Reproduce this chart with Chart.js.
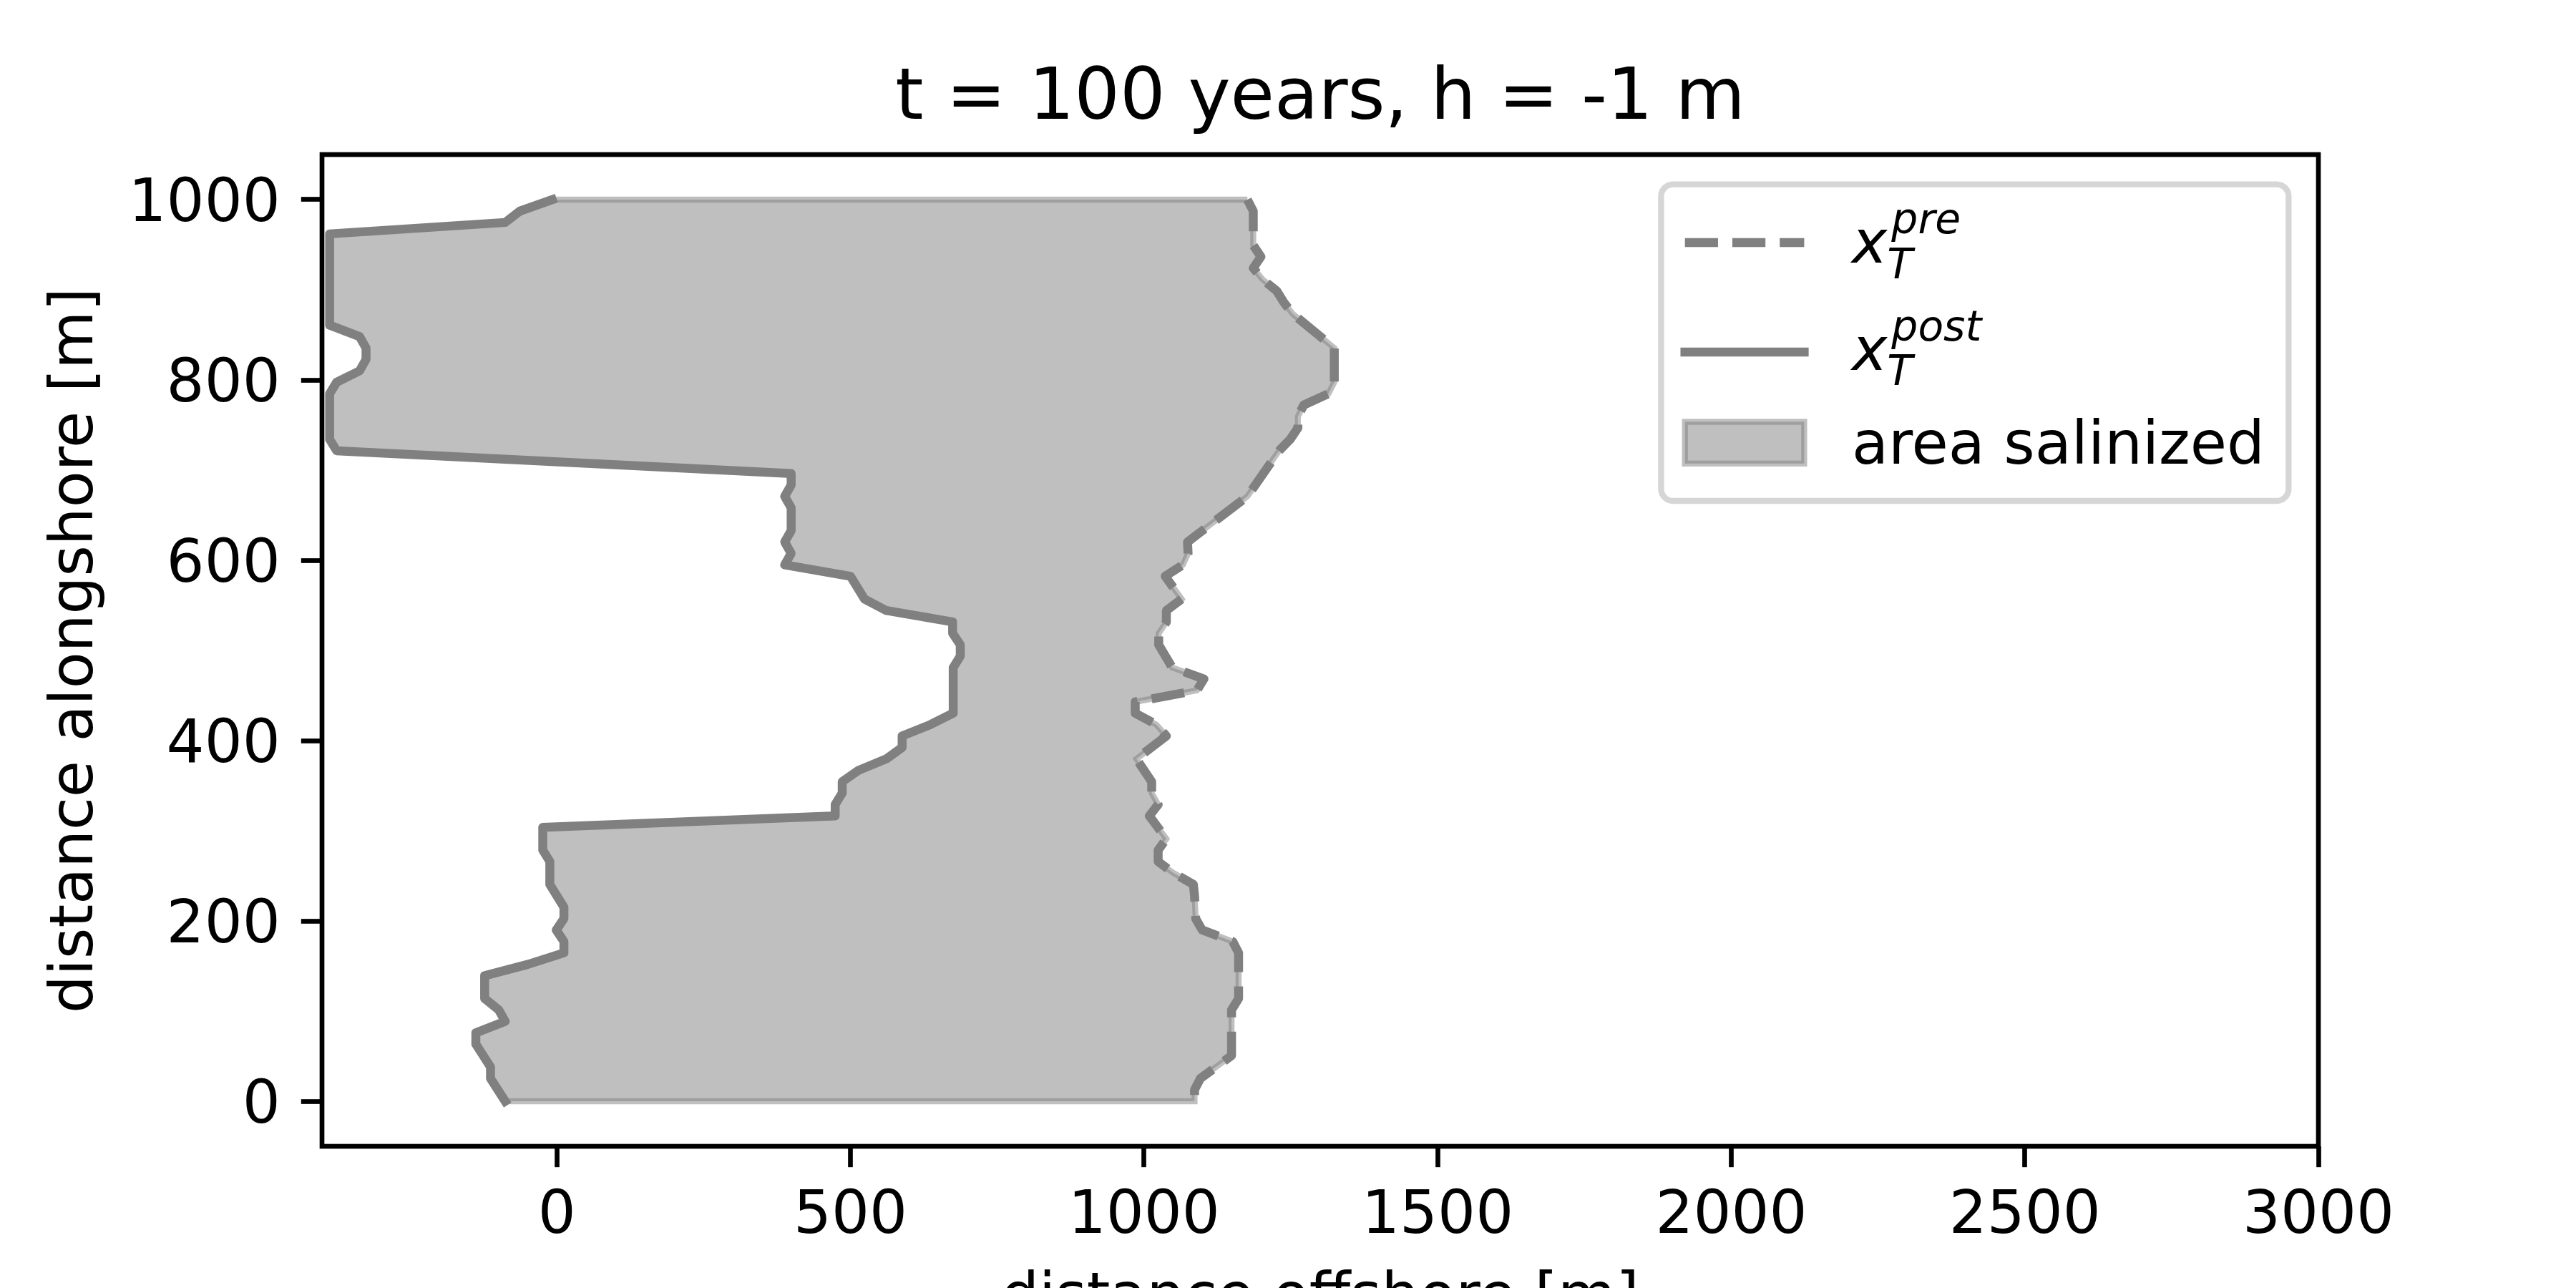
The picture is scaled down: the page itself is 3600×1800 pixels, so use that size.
<!DOCTYPE html>
<html>
<head>
<meta charset="utf-8">
<script src="https://cdn.jsdelivr.net/npm/chart.js@4.4.1/dist/chart.umd.min.js"></script>
<style>
  html, body { margin: 0; padding: 0; background: #ffffff; }
  #wrap { width: 3600px; height: 1800px; position: relative; overflow: hidden; }
  canvas { display: block; }
</style>
</head>
<body>
<div id="wrap"><canvas id="c" width="3600" height="1800"></canvas></div>
<script>
// ---------------- data ----------------
const titleText = 't = 100 years, h = -1 m';
const xLabelText = 'distance offshore [m]';
const yLabelText = 'distance alongshore [m]';
const legendLabels = ['pre', 'post', 'area salinized'];

const xTicks = [0, 500, 1000, 1500, 2000, 2500, 3000];
const yTicks = [0, 200, 400, 600, 800, 1000];
const xRange = [-400, 3000];
const yRange = [-50, 1050];

// x_T^pre (dashed line, seaward boundary): vertices
const preY = [1000, 987.3, 949.4, 936.7, 924.1, 911.4, 898.7, 886.1, 873.4, 835.4,
              797.5, 784.8, 772.2, 759.5, 746.8, 734.2, 721.5, 670.9, 620.3, 607.6,
              594.9, 582.3, 557.0, 544.3, 531.6, 519.0, 506.3, 481.0, 468.4, 455.7,
              443.0, 430.4, 417.7, 405.1, 379.7, 354.4, 341.8, 329.1, 316.5, 291.1,
              278.5, 265.8, 253.2, 240.5, 227.8, 202.5, 189.9, 177.2, 164.6, 113.9,
              101.3, 50.6, 25.3, 12.7, 0];
const preX = [1176, 1186, 1186, 1199, 1186, 1202, 1226, 1238, 1253, 1324,
              1324, 1314, 1272, 1262, 1262, 1249, 1230, 1176, 1074, 1075,
              1066, 1036, 1064, 1038, 1038, 1025, 1025, 1048, 1102, 1090,
              985, 985, 1021, 1038, 987, 1013, 1013, 1024, 1009, 1038,
              1024, 1024, 1050, 1084, 1086, 1088, 1099, 1151, 1161, 1161,
              1149, 1149, 1096, 1086, 1086];

// x_T^post (solid line, landward boundary): vertices
const postY = [1000, 987.3, 974.7, 962.0, 860.8, 848.1, 835.4, 822.8, 810.1, 797.5,
               784.8, 734.2, 721.5, 696.2, 683.5, 670.9, 658.2, 632.9, 620.3, 607.6,
               594.9, 582.3, 557.0, 544.3, 531.6, 519.0, 506.3, 493.7, 481.0, 430.4,
               417.7, 405.1, 392.4, 379.7, 367.1, 354.4, 341.8, 329.1, 316.5, 303.8,
               278.5, 265.8, 240.5, 215.2, 202.5, 189.9, 177.2, 164.6, 151.9, 139.2,
               113.9, 101.3, 88.6, 75.9, 63.3, 38.0, 25.3, 0];
const postX = [-8, -63, -88, -387, -387, -336, -325, -325, -336, -375,
               -387, -387, -375, 399, 399, 388, 399, 399, 388, 399,
               388, 500, 524, 561, 674, 674, 687, 687, 675, 675,
               636, 588, 588, 561, 514, 486, 486, 474, 474, -24,
               -24, -12, -12, 12, 12, -1, 12, 12, -49, -123,
               -123, -99, -88, -138, -138, -113, -113, -88];

// ---------------- build datasets from the arrays ----------------
const prePts = preX.map((x, i) => ({ x: x, y: preY[i] }));
const postPts = postX.map((x, i) => ({ x: x, y: postY[i] }));
// closed polygon: pre (top->bottom), then post (bottom->top), then back to start
const areaPts = prePts.concat(postPts.slice().reverse(), [prePts[0]]);

// ---------------- styling constants (matplotlib look, 600 dpi) ----------------
const PT = 600 / 72;                 // px per point
const FS = 10 * PT;                  // 83.33 px base font
const FONT = "'DejaVu Sans', 'Liberation Sans', sans-serif";
const GRAY = '#808080';
const GRAY50 = 'rgba(128,128,128,0.5)';
const SPINE = 0.8 * PT;
const TICKLEN = 3.5 * PT;

const framePlugin = {
  id: 'mplFrame',
  afterDatasetsDraw(chart) {
    const a = chart.chartArea, ctx = chart.ctx;
    ctx.save();
    ctx.strokeStyle = '#000';
    ctx.lineWidth = SPINE;
    ctx.lineJoin = 'miter';
    ctx.strokeRect(a.left, a.top, a.right - a.left, a.bottom - a.top);
    ctx.restore();
  }
};

const textPlugin = {
  id: 'mplText',
  afterDraw(chart) {
    const a = chart.chartArea, ctx = chart.ctx;
    const cx = (a.left + a.right) / 2, cy = (a.top + a.bottom) / 2;
    ctx.save();
    ctx.fillStyle = '#000';
    ctx.textBaseline = 'alphabetic';
    // title
    ctx.font = (12 * PT) + 'px ' + FONT;
    ctx.textAlign = 'center';
    ctx.fillText(titleText, cx, a.top - 50);
    // x label (partly below canvas edge, as in reference)
    ctx.font = FS + 'px ' + FONT;
    ctx.fillText(xLabelText, cx, 1838);
    // y label
    ctx.save();
    ctx.translate(128.5, cy);
    ctx.rotate(-Math.PI / 2);
    ctx.fillText(yLabelText, 0, 0);
    ctx.restore();

    // ---- legend ----
    const bx1 = a.right - 0.5 * FS, by0 = a.top + 0.5 * FS;
    ctx.font = FS + 'px ' + FONT;
    const labW = ctx.measureText(legendLabels[2]).width;
    const bw = 0.4 * FS + 2 * FS + 0.8 * FS + labW + 0.4 * FS;
    const bx0 = bx1 - bw, by1 = 700;
    const r = 0.2 * FS;
    ctx.beginPath();
    ctx.moveTo(bx0 + r, by0);
    ctx.lineTo(bx1 - r, by0);
    ctx.arcTo(bx1, by0, bx1, by0 + r, r);
    ctx.lineTo(bx1, by1 - r);
    ctx.arcTo(bx1, by1, bx1 - r, by1, r);
    ctx.lineTo(bx0 + r, by1);
    ctx.arcTo(bx0, by1, bx0, by1 - r, r);
    ctx.lineTo(bx0, by0 + r);
    ctx.arcTo(bx0, by0, bx0 + r, by0, r);
    ctx.closePath();
    ctx.fillStyle = 'rgba(255,255,255,0.8)';
    ctx.fill();
    ctx.strokeStyle = 'rgba(204,204,204,0.8)';
    ctx.lineWidth = 1 * PT;
    ctx.stroke();

    const hx0 = bx0 + 0.4 * FS, hx1 = hx0 + 2 * FS;
    const tx = hx1 + 0.8 * FS;
    // handle 1: dashed
    ctx.strokeStyle = GRAY;
    ctx.lineWidth = 1.5 * PT;
    ctx.lineCap = 'butt';
    ctx.setLineDash([3.7 * 1.5 * PT, 1.6 * 1.5 * PT]);
    ctx.beginPath(); ctx.moveTo(hx0, 339); ctx.lineTo(hx1, 339); ctx.stroke();
    // handle 2: solid
    ctx.setLineDash([]);
    ctx.lineCap = 'square';
    ctx.beginPath(); ctx.moveTo(hx0, 492); ctx.lineTo(hx1, 492); ctx.stroke();
    // handle 3: patch
    ctx.lineCap = 'butt';
    ctx.fillStyle = GRAY50;
    ctx.fillRect(hx0, 589.5, hx1 - hx0, 0.7 * FS);
    ctx.strokeStyle = GRAY50;
    ctx.lineWidth = 1 * PT;
    ctx.strokeRect(hx0, 589.5, hx1 - hx0, 0.7 * FS);

    // labels
    ctx.fillStyle = '#000';
    ctx.textAlign = 'left';
    const drawMath = (sup, base) => {
      ctx.font = 'italic ' + FS + 'px ' + FONT;
      ctx.fillText('x', tx, base);
      const w = ctx.measureText('x').width;
      ctx.font = 'italic ' + (0.7 * FS) + 'px ' + FONT;
      ctx.fillText('T', tx + w, base + 21.5);
      ctx.fillText(sup, tx + w + 6, base - 41);
    };
    drawMath(legendLabels[0], 367);
    drawMath(legendLabels[1], 516.5);
    ctx.font = FS + 'px ' + FONT;
    ctx.fillText(legendLabels[2], tx, 648);
    ctx.restore();
  }
};

const tickFont = { family: FONT, size: FS };

new Chart(document.getElementById('c').getContext('2d'), {
  type: 'line',
  data: {
    datasets: [
      {
        label: 'x_T^post', data: postPts,
        borderColor: GRAY, borderWidth: 1.5 * PT,
        borderCapStyle: 'square', borderJoinStyle: 'round',
        pointRadius: 0, fill: false, tension: 0, clip: 0
      },
      {
        label: 'x_T^pre', data: prePts,
        borderColor: GRAY, borderWidth: 1.5 * PT,
        borderDash: [3.7 * 1.5 * PT, 1.6 * 1.5 * PT],
        borderCapStyle: 'butt', borderJoinStyle: 'round',
        pointRadius: 0, fill: false, tension: 0, clip: 0
      },
      {
        label: 'area salinized', data: areaPts,
        borderColor: GRAY50, backgroundColor: GRAY50, borderWidth: 1 * PT,
        borderJoinStyle: 'miter', borderCapStyle: 'butt',
        pointRadius: 0, fill: 'shape', tension: 0, clip: 0
      }
    ]
  },
  options: {
    responsive: false,
    animation: false,
    devicePixelRatio: 1,
    events: [],
    layout: { padding: { left: 0, right: 360, top: 216, bottom: 0 } },
    plugins: {
      legend: { display: false },
      title: { display: false },
      tooltip: { enabled: false }
    },
    scales: {
      x: {
        type: 'linear', position: 'bottom',
        min: xRange[0], max: xRange[1],
        afterFit(s) { s.height = 198; },
        afterBuildTicks(s) { s.ticks = xTicks.map(v => ({ value: v })); },
        grid: { drawOnChartArea: false, drawTicks: true, tickLength: TICKLEN, tickWidth: SPINE, tickColor: '#000' },
        border: { display: false },
        ticks: { font: tickFont, color: '#000', padding: 20, maxRotation: 0, autoSkip: false, callback: v => String(v) }
      },
      y: {
        type: 'linear', position: 'left',
        min: yRange[0], max: yRange[1],
        afterFit(s) { s.width = 450; },
        afterBuildTicks(s) { s.ticks = yTicks.map(v => ({ value: v })); },
        grid: { drawOnChartArea: false, drawTicks: true, tickLength: TICKLEN, tickWidth: SPINE, tickColor: '#000' },
        border: { display: false },
        ticks: { font: tickFont, color: '#000', padding: TICKLEN, labelOffset: 8, autoSkip: false, callback: v => String(v) }
      }
    }
  },
  plugins: [framePlugin, textPlugin]
});
</script>
</body>
</html>
